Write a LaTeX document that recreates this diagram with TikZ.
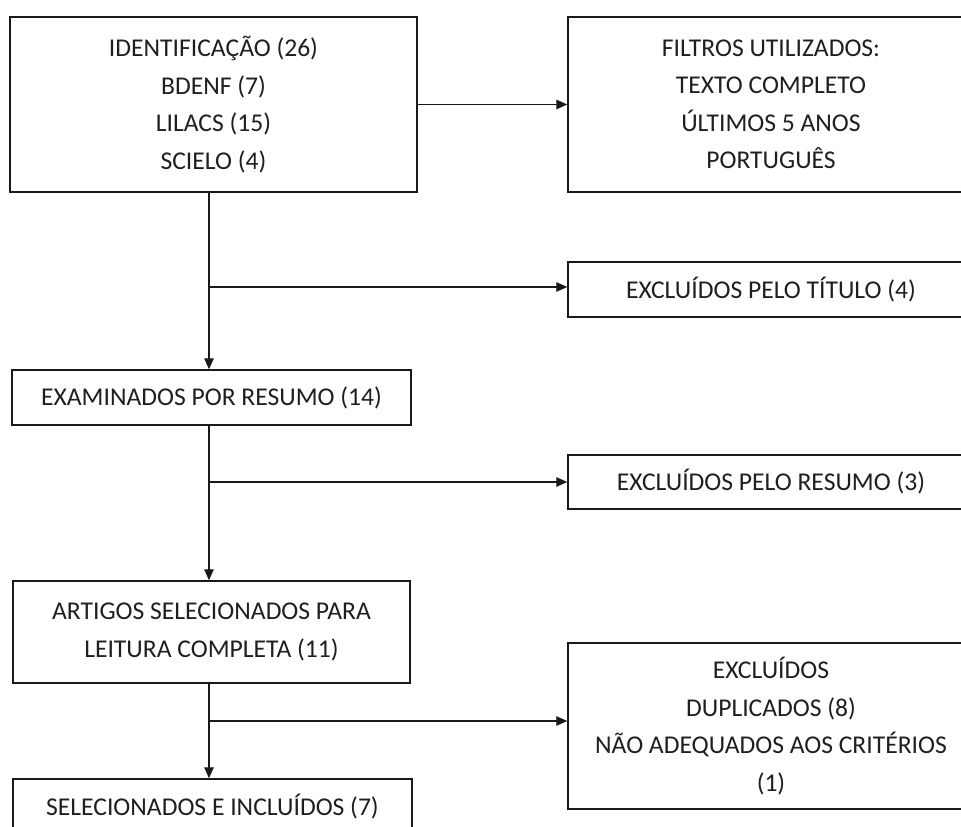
\documentclass[tikz,border=0pt]{standalone}
\usepackage{fontspec}
\setmainfont{Carlito}
\usetikzlibrary{arrows.meta}
\begin{document}
\begin{tikzpicture}[x=1pt,y=-1pt,
  box/.style={draw=black!90, line width=1.5pt, inner sep=0pt, align=center,
    font=\fontsize{25.6}{37.5}\selectfont, text=black!88},
  conn/.style={draw=black!90, line width=1.4pt},
  arr/.style={conn, -{Triangle[length=11pt,width=9.5pt]}}]
\useasboundingbox (0,0) rectangle (961,827);
\clip (0,0) rectangle (961,827);
\fill[white] (0,0) rectangle (961,827);
\node[box, minimum width=407pt, minimum height=175pt] (b1) at (213.5,104.5)
  {IDENTIFICAÇÃO (26)\\BDENF (7)\\LILACS (15)\\SCIELO (4)};
\node[box, minimum width=406pt, minimum height=175pt] (b2) at (771,104.5)
  {FILTROS UTILIZADOS:\\TEXTO COMPLETO\\ÚLTIMOS 5 ANOS\\PORTUGUÊS};
\node[box, minimum width=406pt, minimum height=55pt] (b3) at (771,289.5)
  {EXCLUÍDOS PELO TÍTULO (4)};
\node[box, minimum width=399pt, minimum height=55pt] (b4) at (211.5,397.5)
  {EXAMINADOS POR RESUMO (14)};
\node[box, minimum width=406pt, minimum height=54pt] (b5) at (771,482)
  {EXCLUÍDOS PELO RESUMO (3)};
\node[box, minimum width=397pt, minimum height=102pt] (b6) at (211.5,632)
  {ARTIGOS SELECIONADOS PARA\\LEITURA COMPLETA (11)};
\node[box, minimum width=406pt, minimum height=166pt] (b7) at (771,726)
  {EXCLUÍDOS\\DUPLICADOS (8)\\NÃO ADEQUADOS AOS CRITÉRIOS\\(1)};
\node[box, minimum width=399pt, minimum height=56pt] (b8) at (212.5,807)
  {SELECIONADOS E INCLUÍDOS (7)};
\coordinate (t1) at (209,287);
\coordinate (t2) at (209,482);
\coordinate (t3) at (209,721);
\draw[arr] (b1.east) -- (b2.west);
\draw[conn] (b1.south -| t1) -- (t1);
\draw[arr] (t1) -- (b4.north -| t1);
\draw[arr] (t1) -- (b3.west |- t1);
\draw[conn] (b4.south -| t2) -- (t2);
\draw[arr] (t2) -- (b6.north -| t2);
\draw[arr] (t2) -- (b5.west |- t2);
\draw[conn] (b6.south -| t3) -- (t3);
\draw[arr] (t3) -- (b8.north -| t3);
\draw[arr] (t3) -- (b7.west |- t3);
\end{tikzpicture}
\end{document}
